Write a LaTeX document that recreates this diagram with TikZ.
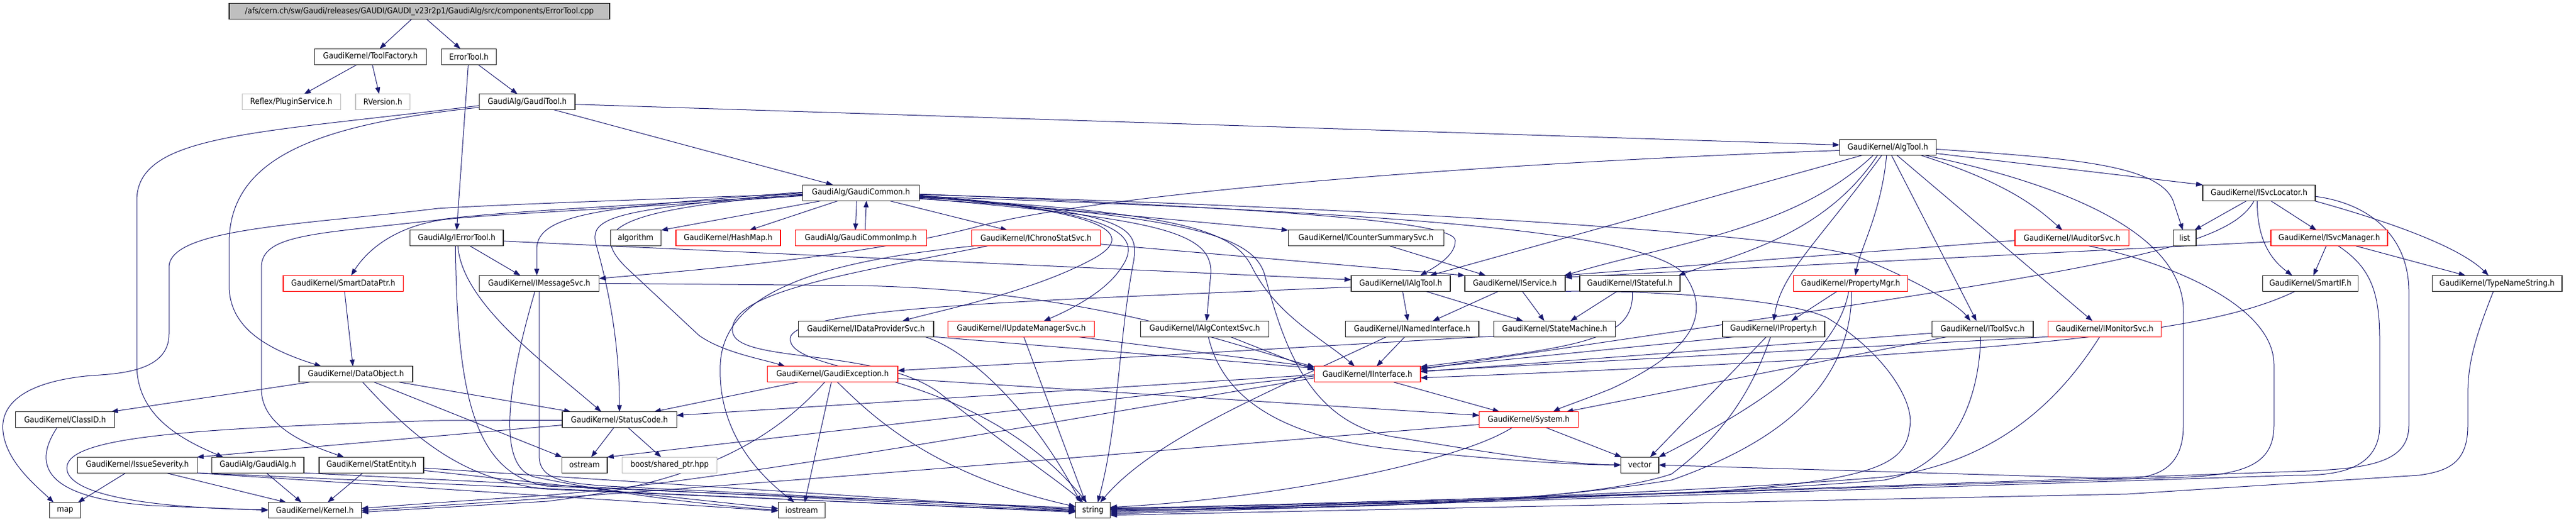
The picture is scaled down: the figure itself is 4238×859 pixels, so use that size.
\documentclass[tikz,border=0pt]{standalone}
\usepackage{fontspec}
\newfontfamily\gfont[FakeStretch=0.9]{DejaVu Sans}
\usetikzlibrary{arrows.meta}
\pgfdeclarelayer{bg}
\pgfdeclarelayer{canvas}
\pgfsetlayers{canvas,bg,main}
\definecolor{edgec}{HTML}{191970}
\definecolor{topfill}{HTML}{BFBFBF}
\tikzset{
  box/.style={draw=black!85, line width=1.3pt, fill=white, minimum height=26pt, inner sep=0pt, outer sep=0pt, text=black, font=\gfont\fontsize{13.5pt}{16pt}\selectfont},
  rbox/.style={box, draw=red},
  gbox/.style={box, draw=black!25},
  topbox/.style={box, fill=topfill},
  e/.style={draw=edgec, line width=1pt, -{Triangle[length=11pt,width=8pt]}}
}
\begin{document}
\begin{tikzpicture}[x=1pt,y=-1pt]
\begin{pgfonlayer}{canvas}
\fill[white] (0,0) rectangle (4238,859);
\end{pgfonlayer}
\useasboundingbox (0,0) rectangle (4238,859);
% nodes
\node[topbox, minimum width=626] (cpp) at (690,18.7) {/afs/cern.ch/sw/Gaudi/releases/GAUDI/GAUDI\_v23r2p1/GaudiAlg/src/components/ErrorTool.cpp};
\node[box, minimum width=184] (toolf) at (609.5,93.2) {GaudiKernel/ToolFactory.h};
\node[box, minimum width=90] (errh) at (771.4,93.2) {ErrorTool.h};
\node[gbox, minimum width=162] (plugin) at (479.3,167.7) {Reflex/PluginService.h};
\node[gbox, minimum width=89.5] (rver) at (629.8,167.7) {RVersion.h};
\node[box, minimum width=157.5] (gtool) at (867.3,167.7) {GaudiAlg/GaudiTool.h};
\node[box, minimum width=159] (algtool) at (3105.8,242.5) {GaudiKernel/AlgTool.h};
\node[box, minimum width=192] (gcommon) at (1416.4,317.2) {GaudiAlg/GaudiCommon.h};
\node[box, minimum width=185] (svcloc) at (3716.5,317.2) {GaudiKernel/ISvcLocator.h};
\node[box, minimum width=153.5] (ierr) at (751.3,391.8) {GaudiAlg/IErrorTool.h};
\node[box, minimum width=83] (algo) at (1045.7,391.8) {algorithm};
\node[rbox, minimum width=172] (hashmap) at (1197.9,391.8) {GaudiKernel/HashMap.h};
\node[rbox, minimum width=216] (gcimp) at (1416.2,391.8) {GaudiAlg/GaudiCommonImp.h};
\node[rbox, minimum width=212] (chrono) at (1704.4,391.8) {GaudiKernel/IChronoStatSvc.h};
\node[box, minimum width=256] (counter) at (2247.4,391.8) {GaudiKernel/ICounterSummarySvc.h};
\node[rbox, minimum width=187.5] (auditor) at (3408.8,391.8) {GaudiKernel/IAuditorSvc.h};
\node[box, minimum width=37.7] (list) at (3594.2,391.8) {list};
\node[rbox, minimum width=192] (svcman) at (3832,391.8) {GaudiKernel/ISvcManager.h};
\node[rbox, minimum width=197.5] (sdptr) at (564.8,466.3) {GaudiKernel/SmartDataPtr.h};
\node[box, minimum width=197] (imsg) at (887.1,466.3) {GaudiKernel/IMessageSvc.h};
\node[box, minimum width=163] (ialgtool) at (2304.5,466.3) {GaudiKernel/IAlgTool.h};
\node[box, minimum width=165] (iservice) at (2492.4,466.3) {GaudiKernel/IService.h};
\node[box, minimum width=165] (istateful) at (2681.5,466.3) {GaudiKernel/IStateful.h};
\node[rbox, minimum width=188] (propmgr) at (3044.5,466.3) {GaudiKernel/PropertyMgr.h};
\node[box, minimum width=156.5] (smartif) at (3801,466.3) {GaudiKernel/SmartIF.h};
\node[box, minimum width=213.5] (tns) at (4108.1,466.3) {GaudiKernel/TypeNameString.h};
\node[box, minimum width=222.6] (idp) at (1424.7,541.2) {GaudiKernel/IDataProviderSvc.h};
\node[rbox, minimum width=241] (iupd) at (1680.3,541.2) {GaudiKernel/IUpdateManagerSvc.h};
\node[box, minimum width=210.7] (ialgctx) at (1982,541.2) {GaudiKernel/IAlgContextSvc.h};
\node[box, minimum width=219.5] (inamed) at (2323.2,541.2) {GaudiKernel/INamedInterface.h};
\node[box, minimum width=200] (statem) at (2557.7,541.2) {GaudiKernel/StateMachine.h};
\node[box, minimum width=168] (iprop) at (2918,541.2) {GaudiKernel/IProperty.h};
\node[box, minimum width=166.7] (itoolsvc) at (3261.7,541.2) {GaudiKernel/IToolSvc.h};
\node[rbox, minimum width=186] (imon) at (3462.4,541.2) {GaudiKernel/IMonitorSvc.h};
\node[box, minimum width=187] (dobj) at (585.6,615.8) {GaudiKernel/DataObject.h};
\node[rbox, minimum width=214.6] (gexc) at (1369.7,615.8) {GaudiKernel/GaudiException.h};
\node[rbox, minimum width=174.5] (iinter) at (2249.7,615.8) {GaudiKernel/IInterface.h};
\node[box, minimum width=162.5] (classid) at (107,690.5) {GaudiKernel/ClassID.h};
\node[box, minimum width=188.2] (status) at (1019.1,690.5) {GaudiKernel/StatusCode.h};
\node[rbox, minimum width=162.5] (system) at (2515,690.5) {GaudiKernel/System.h};
\node[box, minimum width=197.4] (issue) at (226,765.2) {GaudiKernel/IssueSeverity.h};
\node[box, minimum width=151.5] (galg) at (424.2,765.2) {GaudiAlg/GaudiAlg.h};
\node[box, minimum width=172.2] (statent) at (611,765.2) {GaudiKernel/StatEntity.h};
\node[box, minimum width=74.4] (ostream) at (961.7,765.2) {ostream};
\node[gbox, minimum width=156] (boost) at (1101.7,765.2) {boost/shared\_ptr.hpp};
\node[box, minimum width=62.4] (vector) at (2697.8,765.2) {vector};
\node[box, minimum width=51] (map) at (107.2,839.8) {map};
\node[box, minimum width=153.4] (kernel) at (518,839.8) {GaudiKernel/Kernel.h};
\node[box, minimum width=77.2] (iostream) at (1318.9,839.8) {iostream};
\node[box, minimum width=57] (string) at (1798,839.8) {string};

\begin{pgfonlayer}{bg}
% top
\draw[e] ([xshift=-13pt]cpp.south) -- ([xshift=15pt]toolf.north);
\draw[e] ([xshift=12pt]cpp.south) -- ([xshift=-14pt]errh.north);
\draw[e] ([xshift=-22pt]toolf.south) -- ([xshift=21pt]plugin.north);
\draw[e] ([xshift=3pt]toolf.south) -- ([xshift=-6pt]rver.north);
\draw[e] ([xshift=15pt]errh.south) -- ([xshift=-16pt]gtool.north);
\draw[e] ([xshift=-1pt]errh.south) -- (ierr.north);
\draw[e] ([xshift=44pt]gtool.south) -- ([xshift=-46pt]gcommon.north);
\draw[e] ([yshift=-4pt]gtool.east) -- ([yshift=4pt]algtool.west);
\draw[e] ([yshift=-6pt]gtool.west) .. controls (420,220) and (225,220) .. (225,330) -- (225,600) .. controls (225,680) and (290,720) .. ([xshift=-57pt]galg.north);
\draw[e] ([yshift=-9pt]gtool.west) .. controls (520,205) and (377,260) .. (377,400) -- (377,470) .. controls (377,540) and (440,575) .. ([xshift=-57pt]dobj.north);
% GaudiCommon
\draw[e] ([xshift=-64pt]gcommon.south) -- ([xshift=42pt]algo.north);
\draw[e] ([xshift=-37pt]gcommon.south) -- ([xshift=35pt]hashmap.north);
\draw[e] ([xshift=-7pt]gcommon.south) -- ([xshift=-9pt]gcimp.north);
\draw[e] ([xshift=7pt]gcimp.north) -- ([xshift=9pt]gcommon.south);
\draw[e] ([xshift=46pt]gcommon.south) -- ([xshift=-47pt]chrono.north);
\draw[e] ([yshift=-6pt]gcommon.east) -- ([yshift=13pt]counter.west);
\draw[e] ([yshift=-2pt]gcommon.west) .. controls (1000,330) and (800,338) .. (720,343) .. controls (500,370) and (278,375) .. (278,440) -- (278,550) .. controls (278,610) and (200,615) .. (150,618) .. controls (40,628) and (0,665) .. (5,710) .. controls (10,760) and (60,800) .. ([xshift=-19pt]map.north);
\draw[e] ([yshift=-4pt]gcommon.west) .. controls (1000,340) and (800,350) .. (720,362) .. controls (520,385) and (430,385) .. (430,440) -- (430,640) .. controls (430,700) and (500,730) .. ([xshift=-45pt]statent.north);
\draw[e] ([yshift=-5pt]gcommon.west) .. controls (1000,345) and (760,355) .. (720,363) .. controls (650,375) and (605,410) .. ([xshift=13pt]sdptr.north);
\draw[e] ([yshift=1pt]gcommon.west) .. controls (1000,340) and (883,350) .. (883,410) -- ([xshift=-4pt]imsg.north);
\draw[e] (gcommon.west) .. controls (1020,345) and (970,355) .. (980,400) .. controls (1000,470) and (1019,560) .. (status.north);
\draw[e] ([yshift=-3pt]gcommon.west) .. controls (1000,345) and (970,380) .. (1030,440) -- (1150,552) .. controls (1190,580) and (1250,590) .. ([xshift=-78pt]gexc.north);
\draw[e] ([yshift=-5pt]gcommon.east) .. controls (1800,345) and (1880,380) .. (1800,425) .. controls (1700,480) and (1550,510) .. ([xshift=60pt]idp.north);
\draw[e] ([yshift=-7pt]gcommon.east) .. controls (1850,345) and (1880,390) .. (1845,440) .. controls (1820,480) and (1760,510) .. ([xshift=37pt]iupd.north);
\draw[e] ([yshift=-9pt]gcommon.east) .. controls (1900,360) and (1995,380) .. (1992,450) -- ([xshift=3pt]ialgctx.north);
\draw[e] ([yshift=-4pt]gcommon.east) .. controls (1850,350) and (1875,370) .. (1865,430) .. controls (1840,560) and (1840,700) .. ([xshift=8pt]string.north);
\draw[e] ([yshift=-2pt]gcommon.east) .. controls (2000,340) and (2390,360) .. (2394,395) .. controls (2396,420) and (2360,440) .. ([xshift=32pt]ialgtool.north);
\draw[e] ([yshift=-8pt]gcommon.east) .. controls (1950,350) and (2030,380) .. (2060,440) .. controls (2100,520) and (2180,560) .. ([xshift=-21pt]iinter.north);
\draw[e] ([yshift=-10pt]gcommon.east) .. controls (1960,355) and (2060,390) .. (2080,450) .. controls (2110,560) and (2150,700) .. (2300,720) .. controls (2450,745) and (2560,763) .. (vector.west);
\draw[e] ([yshift=-3pt]gcommon.east) .. controls (2200,340) and (2900,380) .. (3050,420) .. controls (3150,460) and (3220,500) .. ([xshift=-20pt]itoolsvc.north);
\draw[e] ([yshift=-6pt]gcommon.east) .. controls (2300,350) and (2700,380) .. (2770,450) .. controls (2820,520) and (2780,580) .. (2650,640) .. controls (2600,660) and (2570,670) .. ([xshift=40pt]system.north);
% SmartDataPtr
\draw[e] ([xshift=2pt]sdptr.south) -- ([xshift=-5pt]dobj.north);
% IErrorTool
\draw[e] ([xshift=22pt]ierr.south) -- ([xshift=-31pt]imsg.north);
\draw[e] ([xshift=2pt]ierr.south) .. controls (760,500) and (900,600) .. ([xshift=-30pt]status.north);
\draw[e] ([xshift=-2pt]ierr.south) .. controls (752,650) and (780,780) .. (900,800) -- ([yshift=4pt]string.west);
\draw[e] ([yshift=-5pt]ierr.east) -- ([yshift=6pt]ialgtool.west);
% IMessageSvc
\draw[e] (imsg.east) -- (1420,470) .. controls (1800,480) and (2000,560) .. ([yshift=12pt]iinter.west);
\draw[e] (imsg.south) -- (887,750) .. controls (887,790) and (930,795) .. (1000,800) -- ([yshift=2pt]string.west);
\draw[e] ([xshift=-7pt]imsg.south) .. controls (830,650) and (820,770) .. (880,785) .. controls (1000,810) and (1150,830) .. (iostream.west);
% AlgTool
\draw[e] ([yshift=-5pt]algtool.west) .. controls (2400,270) and (1800,320) .. (1600,375) .. controls (1420,420) and (1200,440) .. ([yshift=8pt]imsg.east);
\draw[e] ([xshift=-42pt]algtool.south) -- ([xshift=48pt]ialgtool.north);
\draw[e] ([xshift=-24pt]algtool.south) .. controls (2950,380) and (2750,400) .. ([xshift=82pt]iservice.north);
\draw[e] ([xshift=-17pt]algtool.south) .. controls (3000,390) and (2850,420) .. ([xshift=80pt]istateful.north);
\draw[e] ([xshift=-10pt]algtool.south) .. controls (2990,400) and (2930,450) .. (iprop.north);
\draw[e] ([xshift=-2pt]algtool.south) .. controls (3095,350) and (3060,410) .. ([xshift=8pt]propmgr.north);
\draw[e] ([xshift=6pt]algtool.south) -- ([xshift=-10pt]itoolsvc.north);
\draw[e] ([xshift=15pt]algtool.south) -- ([xshift=-20pt]imon.north);
\draw[e] ([xshift=54pt]algtool.south) .. controls (3300,300) and (3350,340) .. ([xshift=-16pt]auditor.north);
\draw[e] ([xshift=61pt]algtool.south) .. controls (3380,300) and (3600,380) .. (3592,520) -- (3592,700) .. controls (3592,770) and (3550,785) .. (3500,788) -- (vector.east);
\draw[e] ([yshift=-10pt]algtool.east) -- ([yshift=13pt]svcloc.west);
\draw[e] ([yshift=-3pt]algtool.east) .. controls (3400,260) and (3550,270) .. (3575,330) -- ([xshift=-3pt]list.north);
% ISvcLocator
\draw[e] ([xshift=-20pt]svcloc.south) -- ([xshift=16pt]list.north);
\draw[e] ([xshift=19pt]svcloc.south) -- ([xshift=-21pt]svcman.north);
\draw[e] ([xshift=-3pt]svcloc.south) .. controls (3713,400) and (3740,430) .. ([xshift=-30pt]smartif.north);
\draw[e] ([xshift=90pt]svcloc.south) .. controls (3950,370) and (4050,410) .. ([xshift=-14pt]tns.north);
\draw[e] ([xshift=-8pt]svcloc.south) .. controls (3660,420) and (3400,450) .. ([yshift=8pt]iinter.east);
\draw[e] ([yshift=-6pt]svcloc.east) .. controls (3900,335) and (3963,390) .. (3963,480) -- (3963,700) .. controls (3963,760) and (3900,770) .. (3800,775) -- ([yshift=-4pt]string.east);
% ISvcManager
\draw[e] ([xshift=-5pt]svcman.south) -- ([xshift=5pt]smartif.north);
\draw[e] ([xshift=44pt]svcman.south) -- ([xshift=-52pt]tns.north);
\draw[e] ([xshift=15pt]svcman.south) .. controls (3900,440) and (3915,480) .. (3915,560) -- (3915,700) .. controls (3915,770) and (3850,783) .. (3780,782) -- ([yshift=-6pt]string.east);
\draw[e] ([yshift=-6pt]svcman.west) -- ([yshift=10pt]iservice.east);
% IAuditorSvc
\draw[e] ([yshift=-4pt]auditor.west) -- ([xshift=80pt]iservice.north);
\draw[e] ([xshift=28pt]auditor.south) .. controls (3560,430) and (3741,500) .. (3741,600) -- (3741,700) .. controls (3741,760) and (3700,780) .. (3600,785) -- ([yshift=-2pt]string.east);
% SmartIF, TypeNameString
\draw[e] ([xshift=-25pt]smartif.south) .. controls (3650,540) and (3400,580) .. ([yshift=-6pt]iinter.east);
\draw[e] ([xshift=-6pt]tns.south) .. controls (4070,560) and (4060,600) .. (4060,650) -- (4060,700) .. controls (4060,760) and (4030,775) .. (3980,782) -- (3500,813) -- ([yshift=-8pt]string.east);
% IAlgTool, IService, IStateful
\draw[e] ([xshift=3pt]ialgtool.south) -- ([xshift=-7pt]inamed.north);
\draw[e] ([xshift=41pt]ialgtool.south) -- ([xshift=-52pt]statem.north);
\draw[e] ([yshift=-6pt]ialgtool.west) .. controls (1700,495) and (1290,505) .. (1300,560) .. controls (1310,620) and (1600,600) .. ([xshift=-10pt]string.north);
\draw[e] ([xshift=-27pt]iservice.south) -- ([xshift=34pt]inamed.north);
\draw[e] ([xshift=12pt]iservice.south) -- ([xshift=-17pt]statem.north);
\draw[e] ([xshift=82pt]iservice.south) .. controls (2750,478) and (2950,495) .. (3006,523) .. controls (3100,580) and (3150,660) .. (3142,703) .. controls (3135,760) and (3100,790) .. (2800,810) -- ([yshift=2pt]string.east);
\draw[e] ([xshift=-21pt]istateful.south) -- ([xshift=26pt]statem.north);
\draw[e] ([xshift=4pt]istateful.south) .. controls (2690,560) and (2600,570) .. ([yshift=12pt]iinter.east);
% INamedInterface, StateMachine
\draw[e] ([xshift=-12pt]inamed.south) -- ([xshift=15pt]iinter.north);
\draw[e] ([xshift=-42pt]inamed.south) .. controls (2100,640) and (1900,720) .. ([xshift=12pt]string.north);
\draw[e] ([yshift=-12pt]statem.west) -- ([yshift=6pt]gexc.east);
% IProperty, PropertyMgr
\draw[e] ([xshift=-63pt]iprop.south) -- ([yshift=10pt]iinter.east);
\draw[e] ([xshift=-12pt]iprop.south) -- ([xshift=17pt]vector.north);
\draw[e] ([xshift=-5pt]iprop.south) .. controls (2880,650) and (2830,720) .. (2750,780) .. controls (2600,830) and (2200,835) .. (string.east);
\draw[e] ([xshift=-22pt]propmgr.south) -- ([xshift=29pt]iprop.north);
\draw[e] ([xshift=-3pt]propmgr.south) .. controls (3020,600) and (2850,690) .. ([yshift=13pt]vector.east);
\draw[e] ([xshift=2pt]propmgr.south) .. controls (3045,620) and (2950,720) .. (2750,790) .. controls (2500,830) and (2200,838) .. ([yshift=1pt]string.east);
% IToolSvc, IMonitorSvc
\draw[e] ([yshift=-7pt]itoolsvc.west) -- ([yshift=4pt]iinter.east);
\draw[e] ([xshift=-58pt]itoolsvc.south) -- ([xshift=62pt]system.north);
\draw[e] ([xshift=-3pt]itoolsvc.south) .. controls (3255,680) and (3200,770) .. (3100,790) .. controls (2800,815) and (2200,835) .. ([yshift=3pt]string.east);
\draw[e] ([xshift=-93pt]imon.south) -- ([yshift=5pt]iinter.east);
\draw[e] ([xshift=-8pt]imon.south) .. controls (3400,640) and (3300,760) .. (3100,785) .. controls (2800,810) and (2200,832) .. ([yshift=4pt]string.east);
% IDataProviderSvc, IUpdateManagerSvc, IAlgContextSvc
\draw[e] ([xshift=111pt]idp.south) -- ([yshift=10pt]iinter.west);
\draw[e] ([xshift=97pt]idp.south) .. controls (1600,580) and (1700,680) .. ([xshift=-20pt]string.north);
\draw[e] ([xshift=4pt]iupd.south) -- ([xshift=-12pt]string.north);
\draw[e] ([xshift=92pt]iupd.south) -- ([yshift=12pt]iinter.west);
\draw[e] ([xshift=42pt]ialgctx.south) -- ([yshift=7pt]iinter.west);
\draw[e] ([xshift=6pt]ialgctx.south) .. controls (2010,650) and (2100,720) .. (2300,740) .. controls (2500,760) and (2600,765) .. (vector.west);
% IInterface
\draw[e] ([xshift=43pt]iinter.south) -- ([xshift=-48pt]system.north);
\draw[e] ([yshift=-1pt]iinter.west) -- ([yshift=7pt]status.east);
\draw[e] ([yshift=-3pt]iinter.west) -- ([xshift=37pt]ostream.north);
\draw[e] ([yshift=-6pt]iinter.west) .. controls (1700,700) and (1200,790) .. (900,815) .. controls (750,825) and (650,832) .. ([yshift=3pt]kernel.east);
% System
\draw[e] ([yshift=-8pt]system.west) .. controls (1800,750) and (1100,810) .. (kernel.east);
\draw[e] ([xshift=-27pt]system.south) .. controls (2400,760) and (2100,820) .. ([yshift=5pt]string.east);
\draw[e] ([xshift=28pt]system.south) -- ([xshift=-30pt]vector.north);
% GaudiException
\draw[e] ([xshift=-57pt]gexc.south) -- ([xshift=57pt]status.north);
\draw[e] ([xshift=-13pt]gexc.south) .. controls (1250,750) and (1100,800) .. (900,825) -- ([yshift=-3pt]kernel.east);
\draw[e] ([xshift=-2pt]gexc.south) -- ([xshift=5pt]iostream.north);
\draw[e] ([xshift=8pt]gexc.south) .. controls (1430,680) and (1530,780) .. ([yshift=6pt]string.west);
\draw[e] ([yshift=-7pt]gexc.east) -- ([yshift=7pt]system.west);
% DataObject
\draw[e] ([xshift=-76pt]dobj.south) -- ([xshift=76pt]classid.north);
\draw[e] ([xshift=71pt]dobj.south) -- ([xshift=-80pt]status.north);
\draw[e] ([xshift=30pt]dobj.south) -- ([xshift=-37pt]ostream.north);
\draw[e] ([xshift=11pt]dobj.south) .. controls (680,720) and (760,790) .. (900,805) -- ([yshift=-2pt]string.west);
% ClassID, StatusCode
\draw[e] ([xshift=-13pt]classid.south) .. controls (50,770) and (80,820) .. (250,832) -- (kernel.west);
\draw[e] ([xshift=-9pt]status.south) -- ([xshift=11pt]ostream.north);
\draw[e] ([xshift=14pt]status.south) -- ([xshift=-14pt]boost.north);
\draw[e] ([yshift=-9pt]status.west) -- ([xshift=98pt]issue.north);
\draw[e] ([yshift=-1pt]status.west) -- (720,692) .. controls (300,705) and (110,720) .. (110,770) .. controls (110,815) and (250,836) .. ([yshift=1pt]kernel.west);
% IssueSeverity, GaudiAlg, StatEntity
\draw[e] ([xshift=-19pt]issue.south) -- ([xshift=21pt]map.north);
\draw[e] ([xshift=47pt]issue.south) -- ([xshift=-47pt]kernel.north);
\draw[e] ([xshift=98pt]issue.south) -- ([yshift=-3pt]string.west);
\draw[e] ([xshift=95pt]issue.south) -- ([yshift=-1pt]iostream.west);
\draw[e] ([xshift=14pt]galg.south) -- ([xshift=-22pt]kernel.north);
\draw[e] ([xshift=75pt]galg.south) -- ([yshift=-1pt]string.west);
\draw[e] ([xshift=-14pt]statent.south) -- ([xshift=21pt]kernel.north);
\draw[e] ([yshift=-5pt]statent.east) -- (string.west);
\draw[e] ([yshift=-9pt]statent.east) -- ([yshift=3pt]iostream.west);
% IChronoStatSvc, ICounterSummarySvc
\draw[e] ([yshift=-10pt]chrono.east) -- ([yshift=13pt]iservice.west);
\draw[e] ([xshift=-102pt]chrono.south) .. controls (1350,430) and (1190,480) .. (1185,600) .. controls (1180,720) and (1260,790) .. ([xshift=-12pt]iostream.north);
\draw[e] ([xshift=-80pt]chrono.south) .. controls (1400,450) and (1200,480) .. (1205,545) .. controls (1210,600) and (1450,570) .. (1550,650) .. controls (1650,730) and (1740,790) .. ([xshift=-16pt]string.north);
\draw[e] ([xshift=39pt]counter.south) -- ([xshift=-48pt]iservice.north);
\end{pgfonlayer}
\end{tikzpicture}
\end{document}
